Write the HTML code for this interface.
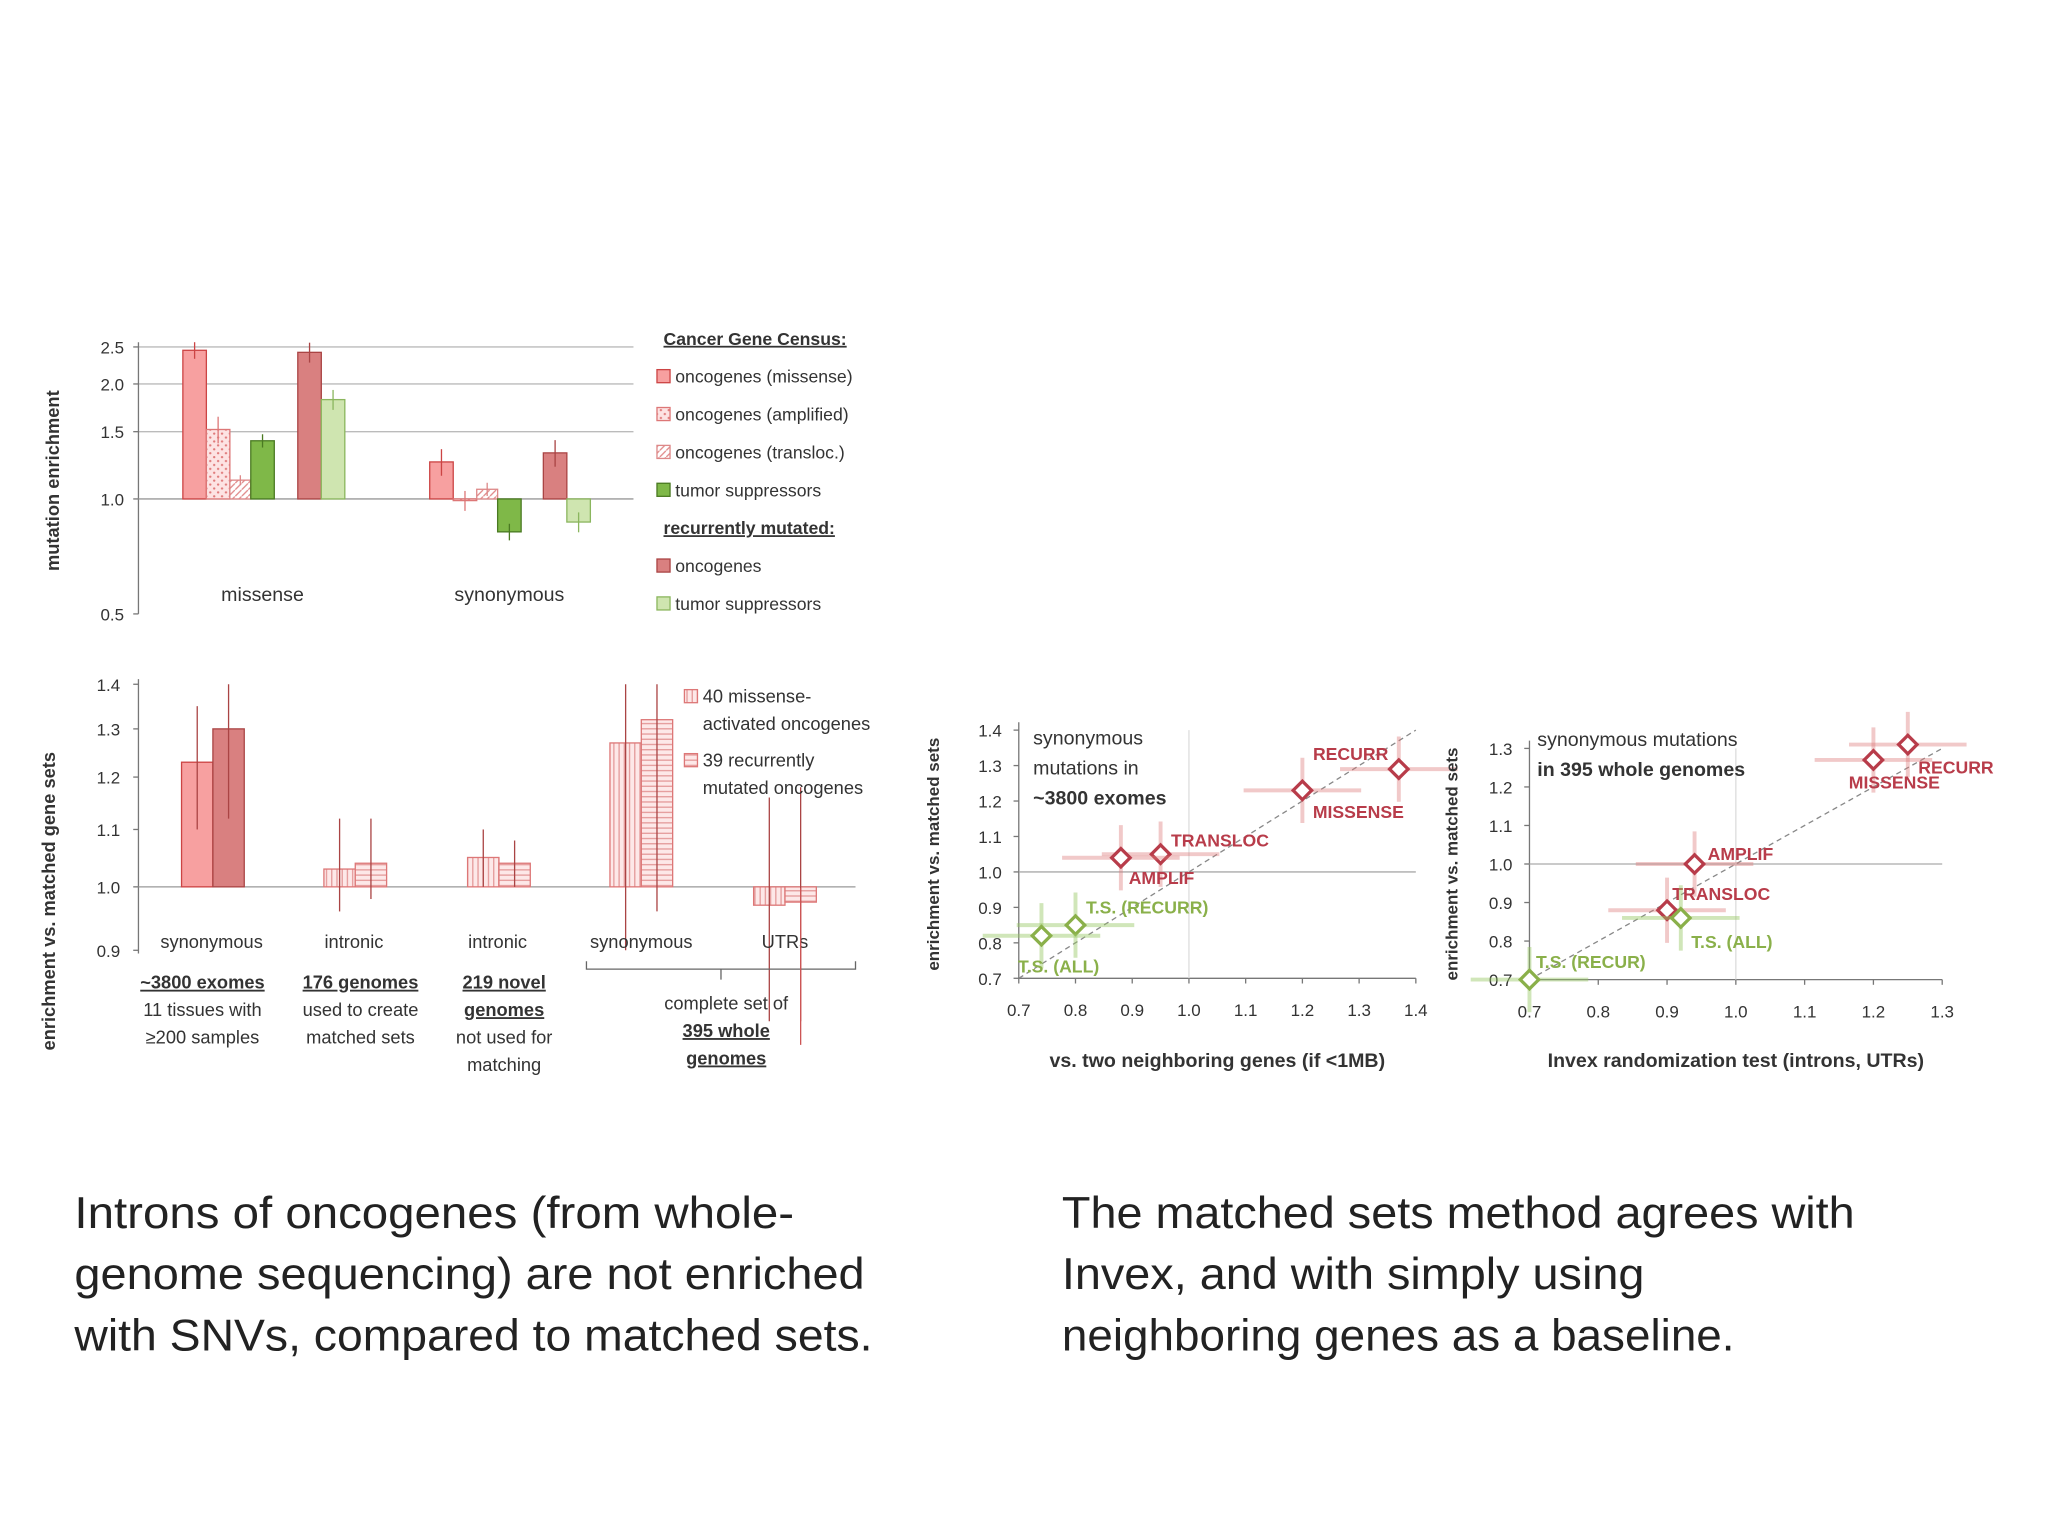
<!DOCTYPE html>
<html><head><meta charset="utf-8"><style>
html,body{margin:0;padding:0;background:#fff;}
svg{display:block;font-family:"Liberation Sans",sans-serif;}
</style></head><body>
<svg id="s" width="2048" height="1536" viewBox="0 0 1568 1176" xmlns="http://www.w3.org/2000/svg">
<defs>
<pattern id="dots" width="6" height="6" patternUnits="userSpaceOnUse"><rect width="6" height="6" fill="#fde3e3"/><circle cx="2" cy="2" r="0.9" fill="#e07a7a"/><circle cx="5" cy="5" r="0.9" fill="#e07a7a"/></pattern>
<pattern id="diag" width="5" height="5" patternUnits="userSpaceOnUse"><rect width="5" height="5" fill="#fff"/><path d="M0,5 L5,0" stroke="#e08a8a" stroke-width="1"/></pattern>
<pattern id="hlines" width="6" height="4" patternUnits="userSpaceOnUse"><rect width="6" height="4" fill="#fde8e8"/><path d="M0,2 H6" stroke="#e49a9a" stroke-width="1"/></pattern>
<pattern id="vlines" width="4" height="6" patternUnits="userSpaceOnUse"><rect width="4" height="6" fill="#fde8e8"/><path d="M2,0 V6" stroke="#e49a9a" stroke-width="1"/></pattern>
</defs>
<g id="top"></g>
<g id="bot"></g>
<g id="sc1"></g>
<g id="sc2"></g>
<g font-size="34" fill="#222">
<text x="57" y="940" textLength="551" lengthAdjust="spacingAndGlyphs">Introns of oncogenes (from whole-</text>
<text x="57" y="987" textLength="605" lengthAdjust="spacingAndGlyphs">genome sequencing) are not enriched</text>
<text x="57" y="1034" textLength="611" lengthAdjust="spacingAndGlyphs">with SNVs, compared to matched sets.</text>
</g>
<g font-size="34" fill="#222">
<text x="813" y="940" textLength="607" lengthAdjust="spacingAndGlyphs">The matched sets method agrees with</text>
<text x="813" y="987" textLength="446" lengthAdjust="spacingAndGlyphs">Invex, and with simply using</text>
<text x="813" y="1034" textLength="515" lengthAdjust="spacingAndGlyphs">neighboring genes as a baseline.</text>
</g>
</svg>
<script>
// ---- top chart data ----
const topValues = [2.45, 1.52, 1.12, 1.42, 2.42, 1.82, 1.25, 0.99, 1.06, 0.82, 1.32, 0.87];
const topErr = [0.05, 0.08, 0.03, 0.04, 0.06, 0.06, 0.08, 0.06, 0.04, 0.05, 0.08, 0.06];
const topTicks = [2.5, 2.0, 1.5, 1.0, 0.5];
const topGroups = ["missense", "synonymous"];
// ---- bottom chart data ----
const botValues = [1.23, 1.30, 1.03, 1.04, 1.05, 1.04, 1.27, 1.32, 0.97, 0.975];
const botLo = [1.10, 1.12, 0.96, 0.98, 1.00, 1.00, 0.90, 0.96, 0.80, 0.80];
const botHi = [1.35, 1.40, 1.12, 1.12, 1.10, 1.08, 1.40, 1.40, 1.16, 1.18];
const botTicks = [1.4, 1.3, 1.2, 1.1, 1.0, 0.9];
// ---- scatter 1 data ----
const s1Labels = ["RECURR", "MISSENSE", "TRANSLOC", "AMPLIF", "T.S. (RECURR)", "T.S. (ALL)"];
const s1X = [1.37, 1.20, 0.95, 0.88, 0.80, 0.74];
const s1Y = [1.29, 1.23, 1.05, 1.04, 0.85, 0.82];
const s1XTicks = [0.7, 0.8, 0.9, 1.0, 1.1, 1.2, 1.3, 1.4];
const s1YTicks = [0.7, 0.8, 0.9, 1.0, 1.1, 1.2, 1.3, 1.4];
// ---- scatter 2 data ----
const s2Labels = ["RECURR", "MISSENSE", "AMPLIF", "TRANSLOC", "T.S. (ALL)", "T.S. (RECUR)"];
const s2X = [1.25, 1.20, 0.94, 0.90, 0.92, 0.70];
const s2Y = [1.31, 1.27, 1.00, 0.88, 0.86, 0.70];
const s2XTicks = [0.7, 0.8, 0.9, 1.0, 1.1, 1.2, 1.3];
const s2YTicks = [0.7, 0.8, 0.9, 1.0, 1.1, 1.2, 1.3];

const NS = "http://www.w3.org/2000/svg";
function mk(parent, tag, attrs, text) {
  const e = document.createElementNS(NS, tag);
  for (const k in attrs) e.setAttribute(k, attrs[k]);
  if (text !== undefined) e.textContent = text;
  parent.appendChild(e);
  return e;
}
const fmt = v => v.toFixed(1);

// ===== TOP CHART =====
(function(){
  const g = document.getElementById('top');
  const yT = v => 382 - Math.log(v) * 127;
  topTicks.forEach(t => {
    if (t !== 1.0 && t !== 0.5) { const l = mk(g,'line',{x1:106,x2:485,y1:yT(t),y2:yT(t),stroke:'#bbb','stroke-width':1});   }
    const tx = mk(g,'text',{x:95,y:yT(t)+5,'font-size':13,'text-anchor':'end',fill:'#333'},fmt(t));
     
    mk(g,'line',{x1:102,x2:106,y1:yT(t),y2:yT(t),stroke:'#777'});
  });
  mk(g,'line',{x1:106,x2:106,y1:262,y2:470,stroke:'#777'});
  mk(g,'line',{x1:106,x2:485,y1:382,y2:382,stroke:'#999'});
  const xs = [140,158,176,192,228,246,329,347,365,381,416,434];
  const ws = [18,18,16,18,18,18,18,18,16,18,18,18];
  const fills = ['#f7a0a0','url(#dots)','url(#diag)','#7fb848','#d98080','#cfe5b0','#f7a0a0','url(#dots)','url(#diag)','#7fb848','#d98080','#cfe5b0'];
  const strokes = ['#c44','#d77','#d88','#4a7a22','#a44','#8bb65e','#c44','#d77','#d88','#4a7a22','#a44','#8bb65e'];
  topValues.forEach((v,i) => {
    const y1 = Math.min(yT(v), 382), y2 = Math.max(yT(v), 382);
    const r = mk(g,'rect',{x:xs[i],y:y1,width:ws[i],height:y2-y1,fill:fills[i],stroke:strokes[i],'stroke-width':1});
     
    const cx = xs[i]+ws[i]/2;
    mk(g,'line',{x1:cx,x2:cx,y1:yT(v*(1+topErr[i])),y2:yT(v*(1-topErr[i])),stroke:strokes[i]});
  });
  const gl = [201, 390];
  topGroups.forEach((t,i)=>{ const e=mk(g,'text',{x:gl[i],y:460,'font-size':15,'text-anchor':'middle',fill:'#333'},t);   });
  const yl = mk(g,'text',{transform:'translate(45,368) rotate(-90)','font-size':14,'font-weight':'bold','text-anchor':'middle',fill:'#333'},'mutation enrichment');
   
  const leg = [['Cancer Gene Census:',null,null,1],['oncogenes (missense)','#f7a0a0','#c44'],['oncogenes (amplified)','url(#dots)','#d77'],['oncogenes (transloc.)','url(#diag)','#d88'],['tumor suppressors','#7fb848','#4a7a22'],['recurrently mutated:',null,null,1],['oncogenes','#d98080','#a44'],['tumor suppressors','#cfe5b0','#8bb65e']];
  leg.forEach((L,i)=>{
    const y = 264 + i*29;
    if (L[3]) { const e=mk(g,'text',{x:508,y:y,'font-size':13.5,'font-weight':'bold','text-decoration':'underline',fill:'#333'},L[0]);   }
    else { mk(g,'rect',{x:503,y:y-10,width:10,height:10,fill:L[1],stroke:L[2]}); const e=mk(g,'text',{x:517,y:y,'font-size':13.5,fill:'#333'},L[0]);   }
  });
})();

// ===== BOTTOM CHART =====
(function(){
  const g = document.getElementById('bot');
  const yB = v => 679 - Math.log(v) * 461;
  botTicks.forEach(t=>{
    const e=mk(g,'text',{x:92,y:yB(t)+5,'font-size':13,'text-anchor':'end',fill:'#333'},fmt(t));
     
    mk(g,'line',{x1:102,x2:106,y1:yB(t),y2:yB(t),stroke:'#777'});
  });
  mk(g,'line',{x1:106,x2:106,y1:520,y2:730,stroke:'#777'});
  mk(g,'line',{x1:106,x2:655,y1:679,y2:679,stroke:'#999'});
  const xs = [139,163,248,272,358,382,467,491,577,601];
  botValues.forEach((v,i)=>{
    const solid = i<2;
    const fill = solid ? (i===0?'#f7a0a0':'#d98080') : (i%2===0?'url(#vlines)':'url(#hlines)');
    const stroke = solid ? (i===0?'#c44':'#a44') : '#d77';
    const y1 = Math.min(yB(v),679), y2 = Math.max(yB(v),679);
    const r = mk(g,'rect',{x:xs[i],y:y1,width:24,height:y2-y1,fill:fill,stroke:stroke});
     
    mk(g,'line',{x1:xs[i]+12,x2:xs[i]+12,y1:yB(botHi[i]),y2:yB(botLo[i]),stroke:'#a44'});
  });
  const cats = [[155,'synonymous',['~3800 exomes','11 tissues with','≥200 samples'],[1,0,0]],[276,'intronic',['176 genomes','used to create','matched sets'],[1,0,0]],[386,'intronic',['219 novel','genomes','not used for','matching'],[1,1,0,0]]];
  const catX = [162,271,381,491,601];
  ['synonymous','intronic','intronic','synonymous','UTRs'].forEach((c,i)=>{ const e=mk(g,'text',{x:catX[i],y:726,'font-size':14,'text-anchor':'middle',fill:'#333'},c);   });
  cats.forEach(c=>{
    c[2].forEach((s,j)=>{ const t=mk(g,'text',{x:c[0],y:757+j*21,'font-size':14,'text-anchor':'middle',fill:'#333','font-weight':c[3][j]?'bold':'normal','text-decoration':c[3][j]?'underline':'none'},s);   });
  });
  mk(g,'path',{d:'M449,736 V742 H655 V736 M552,742 V750',fill:'none',stroke:'#666'});
  [['complete set of',0],['395 whole',1],['genomes',1]].forEach((s,j)=>{ const t=mk(g,'text',{x:556,y:773+j*21,'font-size':14,'text-anchor':'middle',fill:'#333','font-weight':s[1]?'bold':'normal','text-decoration':s[1]?'underline':'none'},s[0]);   });
  mk(g,'line',{x1:613,x2:613,y1:680,y2:800,stroke:'#c55'});
  const lg = [['40 missense-','activated oncogenes','url(#vlines)'],['39 recurrently','mutated oncogenes','url(#hlines)']];
  lg.forEach((L,i)=>{ const y=538+i*49; mk(g,'rect',{x:524,y:y-10,width:10,height:10,fill:L[2],stroke:'#d77'}); const a=mk(g,'text',{x:538,y:y,'font-size':14,fill:'#333'},L[0]);   mk(g,'text',{x:538,y:y+21,'font-size':14,fill:'#333'},L[1]); });
  const yl = mk(g,'text',{transform:'translate(42,690) rotate(-90)','font-size':14,'font-weight':'bold','text-anchor':'middle',fill:'#333'},'enrichment vs. matched gene sets');
   
})();

// ===== SCATTERS =====
function scatter(id, X, Y, L, xt, yt, box, title, ann, offs, xtitle, ytx){
  const g = document.getElementById(id);
  const [x0,x1,y0,y1,vx0,vx1,vy0,vy1] = box;
  const sx = v => x0 + (v-vx0)/(vx1-vx0)*(x1-x0);
  const sy = v => y0 - (v-vy0)/(vy1-vy0)*(y0-y1);
  mk(g,'line',{x1:x0,x2:x0,y1:y1-6,y2:y0,stroke:'#777'});
  mk(g,'line',{x1:x0,x2:x1,y1:y0,y2:y0,stroke:'#777'});
  mk(g,'line',{x1:x0,x2:x1,y1:sy(1),y2:sy(1),stroke:'#aaa'});
  mk(g,'line',{x1:sx(1),x2:sx(1),y1:y1,y2:y0,stroke:'#ddd'});
  mk(g,'line',{x1:sx(0.7),y1:sy(0.7),x2:sx(Math.min(vx1,vy1)),y2:sy(Math.min(vx1,vy1)),stroke:'#888','stroke-dasharray':'4,3'});
  xt.forEach(t=>{ const e=mk(g,'text',{x:sx(t),y:y0+29,'font-size':13,'text-anchor':'middle',fill:'#333'},fmt(t));   mk(g,'line',{x1:sx(t),x2:sx(t),y1:y0,y2:y0+4,stroke:'#777'}); });
  yt.forEach(t=>{ const e=mk(g,'text',{x:x0-13,y:sy(t)+5,'font-size':13,'text-anchor':'end',fill:'#333'},fmt(t));   mk(g,'line',{x1:x0-4,x2:x0,y1:sy(t),y2:sy(t),stroke:'#777'}); });
  X.forEach((v,i)=>{
    const green = L[i].startsWith('T.S.');
    const col = green ? '#8ab04a' : '#b83c4a';
    const light = green ? 'rgba(150,200,100,0.45)' : 'rgba(220,120,120,0.4)';
    const cx=sx(v), cy=sy(Y[i]);
    mk(g,'line',{x1:cx-45,x2:cx+45,y1:cy,y2:cy,stroke:light,'stroke-width':3});
    mk(g,'line',{x1:cx,x2:cx,y1:cy-25,y2:cy+25,stroke:light,'stroke-width':3});
    const p=mk(g,'rect',{x:cx-5,y:cy-5,width:10,height:10,fill:'#fff',stroke:col,'stroke-width':2.5,transform:`rotate(45 ${cx} ${cy})`});
    
    
    const t=mk(g,'text',{x:cx+offs[i][0],y:cy+offs[i][1],'font-size':13.5,'font-weight':'bold',fill:col,'text-anchor':offs[i][2]||'start'},L[i]);
     
  });
  ann.forEach((s,j)=>{ const e=mk(g,'text',{x:title[0],y:title[1]+j*23,'font-size':15,fill:'#333','font-weight':s[1]?'bold':'normal'},s[0]);   });
  const xl=mk(g,'text',{x:(x0+x1)/2,y:817,'font-size':15,'font-weight':'bold','text-anchor':'middle',fill:'#333'},xtitle);  
  const yl=mk(g,'text',{transform:`translate(${ytx},${(y0+y1)/2}) rotate(-90)`,'font-size':13,'font-weight':'bold','text-anchor':'middle',fill:'#333'},'enrichment vs. matched sets');  
}
scatter('sc1', s1X, s1Y, s1Labels, s1XTicks, s1YTicks, [780,1084,749,559,0.7,1.4,0.7,1.4], [791,570],
  [['synonymous',0],['mutations in',0],['~3800 exomes',1]],
  [[-8,-7,'end'],[8,21],[8,-6],[6,20],[8,-9],[-18,28]], 'vs. two neighboring genes (if <1MB)', 719);
scatter('sc2', s2X, s2Y, s2Labels, s2XTicks, s2YTicks, [1171,1487,750,573,0.7,1.3,0.7,1.3], [1177,571],
  [['synonymous mutations',0],['in 395 whole genomes',1]],
  [[8,22],[16,22,'middle'],[10,-3],[4,-8],[8,23],[5,-9]], 'Invex randomization test (introns, UTRs)', 1116);
</script>
</body></html>
